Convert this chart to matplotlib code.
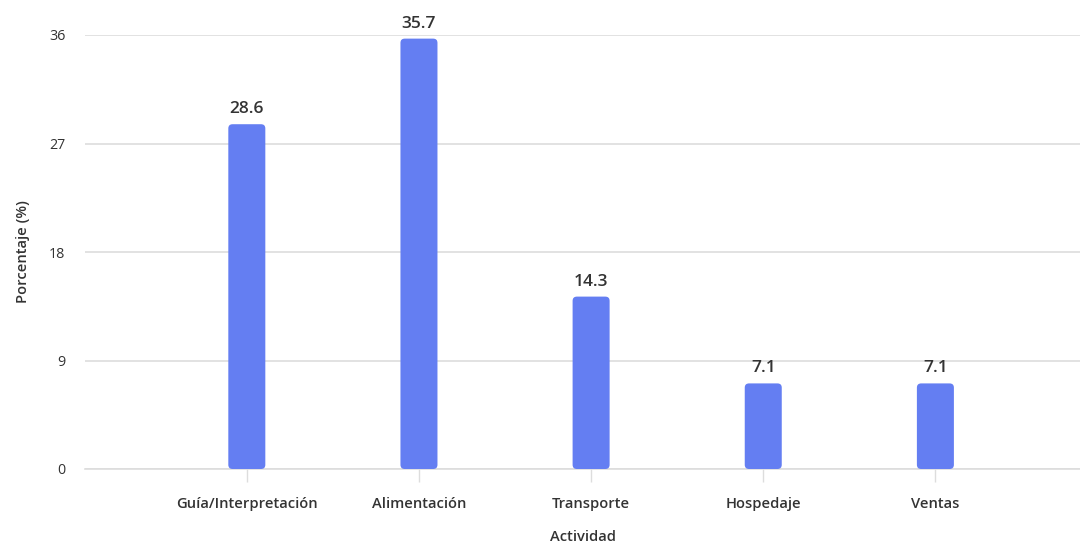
import matplotlib
matplotlib.use('Agg')
import matplotlib.pyplot as plt
from matplotlib.patches import FancyBboxPatch

categories = ['Guía/Interpretación', 'Alimentación', 'Transporte', 'Hospedaje', 'Ventas']
values = [28.6, 35.7, 14.3, 7.1, 7.1]
y_ticks = [0, 9, 18, 27, 36]

bar_color = '#647EF2'
text_color = '#333333'
grid_color = '#DDDDDD'

plt.rcParams['font.family'] = ['Open Sans', 'DejaVu Sans']

fig = plt.figure(figsize=(10.8, 5.46), dpi=100)
ax = fig.add_axes([85 / 1080, 1 - 469 / 546, 995 / 1080, 434 / 546])

x = list(range(len(categories)))
bars = ax.bar(x, values, width=0.215, color=bar_color, zorder=3)

# swap the square bars for rounded ones
for rect in bars:
    bx, by = rect.get_x(), rect.get_y()
    bw, bh = rect.get_width(), rect.get_height()
    rect.set_visible(False)
    patch = FancyBboxPatch((bx, by), bw, bh, boxstyle='round,pad=0,rounding_size=0.025',
                           mutation_aspect=14.0, facecolor=bar_color, edgecolor='none', zorder=3)
    ax.add_patch(patch)

for xi, v in zip(x, values):
    ax.annotate(f'{v:.1f}', (xi, v), xytext=(0, 5), textcoords='offset points',
                ha='center', va='bottom', fontsize=12.5, fontweight='semibold', color=text_color)

ax.set_xlim(-0.94, 4.84)
ax.set_ylim(0, 36)
ax.set_yticks(y_ticks)
ax.set_xticks(x)
ax.set_xticklabels(categories, fontsize=10.6, fontweight='semibold', color=text_color)
ax.tick_params(axis='y', length=0, pad=14, labelsize=10.3, labelcolor=text_color)
ax.tick_params(axis='x', length=9, color=grid_color, width=1, pad=11)
ax.grid(axis='y', color=grid_color, linewidth=1.2, zorder=0)

for side in ['top', 'right', 'left']:
    ax.spines[side].set_visible(False)
ax.spines['bottom'].set_color(grid_color)
ax.spines['bottom'].set_linewidth(1.2)

ax.set_xlabel('Actividad', fontsize=10.6, fontweight='semibold', color=text_color, labelpad=14)
ax.set_ylabel('Porcentaje (%)', fontsize=10.6, fontweight='semibold', color=text_color, labelpad=14)

fig.savefig('out.png', dpi=100)
